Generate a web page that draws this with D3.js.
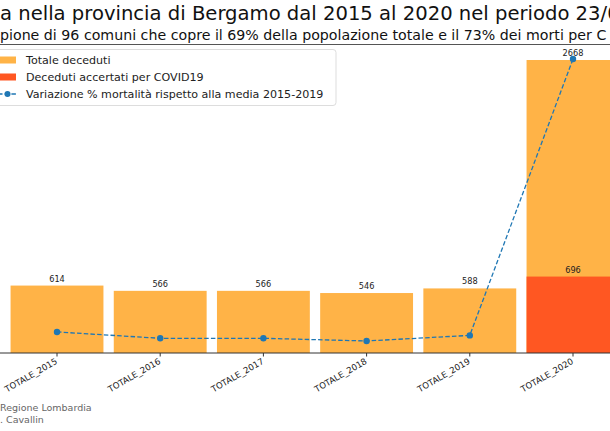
<!DOCTYPE html>
<html><head><meta charset="utf-8">
<script src="https://cdn.jsdelivr.net/npm/d3@7"></script>
<style>html,body{margin:0;padding:0;background:#fff;overflow:hidden}svg{display:block;font-family:"DejaVu Sans",sans-serif}</style>
</head><body>
<svg id="c" width="610" height="431"></svg>
<script>
const categories = ["TOTALE_2015","TOTALE_2016","TOTALE_2017","TOTALE_2018","TOTALE_2019","TOTALE_2020"];
const totals = [614, 566, 566, 546, 588, 2668];
const covid = [null, null, null, null, null, 696];
const variation = [6.6, -1.7, -1.7, -5.2, 2.1, 363.2];
const titleText = "a nella provincia di Bergamo dal 2015 al 2020 nel periodo 23/0";
const subtitleText = "pione di 96 comuni che copre il 69% della popolazione totale e il 73% dei morti per C";
const legendLabels = ["Totale deceduti","Deceduti accertati per COVID19","Variazione % mortalità rispetto alla media 2015-2019"];
const footer = ["Regione Lombardia", ". Cavallin"];

const svg = d3.select("#c");
const ORANGE = "#ffb347", RED = "#ff5722", BLUE = "#1f77b4";

const x = d3.scaleLinear().domain([0, categories.length - 1]).range([57, 573]);
const bw = 0.9 * (x(1) - x(0));
const y = d3.scaleLinear().domain([0, 2668]).range([353, 60]);
const y2 = d3.scaleLinear().domain([0, 363.2]).range([337, 59]);

// title
svg.append("text").attr("x", 0).attr("y", 20).attr("font-size", 19.6).attr("fill", "#111").text(titleText);
svg.append("text").attr("x", 0).attr("y", 40).attr("font-size", 14.2).attr("fill", "#111").text(subtitleText);
svg.append("line").attr("x1", 0).attr("x2", 610).attr("y1", 44.5).attr("y2", 44.5).attr("stroke", "#555").attr("stroke-width", 1);

// bars
const g = svg.append("g");
g.selectAll("rect.tot").data(totals).join("rect").attr("class","tot")
  .attr("x", (d,i) => x(i) - bw/2).attr("width", bw)
  .attr("y", d => y(d)).attr("height", d => y(0) - y(d)).attr("fill", ORANGE);
g.selectAll("rect.cov").data(covid.map((v,i)=>({v,i})).filter(d=>d.v!=null)).join("rect").attr("class","cov")
  .attr("x", d => x(d.i) - bw/2).attr("width", bw)
  .attr("y", d => y(d.v)).attr("height", d => y(0) - y(d.v)).attr("fill", RED);

// value labels
g.selectAll("text.tl").data(totals).join("text").attr("class","tl")
  .attr("x", (d,i) => x(i)).attr("y", d => y(d) - 4).attr("text-anchor","middle")
  .attr("font-size", 8.2).attr("fill", "#222").text(d => d);
g.selectAll("text.cl").data(covid.map((v,i)=>({v,i})).filter(d=>d.v!=null)).join("text").attr("class","cl")
  .attr("x", d => x(d.i)).attr("y", d => y(d.v) - 4).attr("text-anchor","middle")
  .attr("font-size", 8.2).attr("fill", "#222").text(d => d.v);

// axis
svg.append("line").attr("x1", 0).attr("x2", 610).attr("y1", y(0)).attr("y2", y(0)).attr("stroke", "#333").attr("stroke-width", 1);
const xa = svg.append("g");
categories.forEach((c,i) => {
  xa.append("line").attr("x1", x(i)).attr("x2", x(i)).attr("y1", y(0)).attr("y2", y(0)+3.5).attr("stroke","#333");
  xa.append("text").attr("transform", `translate(${x(i)+1},${y(0)+10}) rotate(-30)`)
    .attr("text-anchor","end").attr("font-size", 8.6).attr("fill","#222").text(c);
});

// line
const line = d3.line().x((d,i) => x(i)).y(d => y2(d));
svg.append("path").datum(variation).attr("d", line).attr("fill","none")
  .attr("stroke", BLUE).attr("stroke-width", 1.3).attr("stroke-dasharray", "4.5,2.2");
svg.selectAll("circle.pt").data(variation).join("circle").attr("class","pt")
  .attr("cx", (d,i) => x(i)).attr("cy", d => y2(d)).attr("r", 3.2).attr("fill", BLUE);

// legend
const lg = svg.append("g");
lg.append("rect").attr("x", -6).attr("y", 49.5).attr("width", 342).attr("height", 56).attr("rx", 3)
  .attr("fill", "#fff").attr("fill-opacity", 0.85).attr("stroke", "#ddd");
const ly = [60, 77, 94];
lg.append("rect").attr("x", -2).attr("y", ly[0]-3.5).attr("width", 18).attr("height", 7).attr("fill", ORANGE);
lg.append("rect").attr("x", -2).attr("y", ly[1]-3.5).attr("width", 18).attr("height", 7).attr("fill", RED);
lg.append("line").attr("x1", -2).attr("x2", 17).attr("y1", ly[2]).attr("y2", ly[2]).attr("stroke", BLUE).attr("stroke-width", 1.3).attr("stroke-dasharray","4.5,2.2");
lg.append("circle").attr("cx", 7.5).attr("cy", ly[2]).attr("r", 3).attr("fill", BLUE);
legendLabels.forEach((t,i) => {
  lg.append("text").attr("x", 26).attr("y", ly[i] + 4).attr("font-size", 11.1).attr("fill", "#222").text(t);
});

// footer
footer.forEach((t,i) => {
  svg.append("text").attr("x", 0).attr("y", 410.5 + i*12).attr("font-size", 9.5).attr("fill", "#666").text(t);
});
</script>
</body></html>
